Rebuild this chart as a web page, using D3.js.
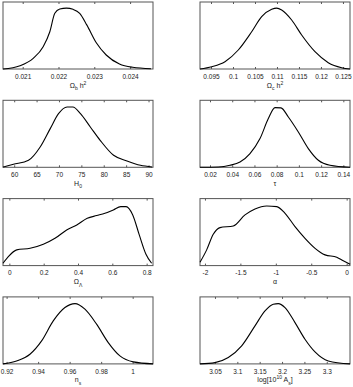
<!DOCTYPE html>
<html>
<head>
<meta charset="utf-8">
<script src="https://cdn.jsdelivr.net/npm/d3@7"></script>
<style>
  body { margin: 0; background: #fff; }
  svg { display: block; }
  .tick text { font-family: "Liberation Sans", Arial, sans-serif; font-size: 6.5px; fill: #222; }
  .xlabel { font-family: "Liberation Sans", Arial, sans-serif; font-size: 7px; fill: #222; }
</style>
</head>
<body>
<div id="chart"></div>
<script>
// marginal posteriors (x value, relative probability)
const obhX = [0.02045, 0.020925, 0.021294, 0.021572, 0.021758, 0.021897, 0.022036, 0.022222, 0.022406, 0.022592, 0.022794, 0.023056, 0.023333, 0.023703, 0.024072, 0.024583];
const obhY = [0.0, 0.054, 0.175, 0.366, 0.612, 0.914, 0.985, 1.0, 0.98, 0.914, 0.72, 0.43, 0.23, 0.082, 0.028, 0.005];

const ochX = [0.0925, 0.09516, 0.09818, 0.1012, 0.10425, 0.10652, 0.1088, 0.10993, 0.11107, 0.11334, 0.11561, 0.11864, 0.12166, 0.1247, 0.1266];
const ochY = [0.0, 0.038, 0.12, 0.312, 0.612, 0.859, 0.98, 1.0, 0.969, 0.804, 0.558, 0.284, 0.104, 0.022, 0.0];

const h0X = [57.5, 59.84, 63.2, 65.8, 68.05, 69.9, 71.8, 73.1, 74.8, 77.0, 79.2, 82.2, 85.2, 88.2, 90.8];
const h0Y = [0.005, 0.049, 0.115, 0.333, 0.635, 0.88, 0.99, 0.99, 0.88, 0.662, 0.443, 0.197, 0.104, 0.033, 0.005];

const tauX = [0.011, 0.0275, 0.038, 0.047, 0.056, 0.065, 0.0725, 0.0785, 0.0839, 0.0905, 0.0995, 0.1085, 0.1175, 0.128, 0.146];
const tauY = [0.0, 0.005, 0.033, 0.087, 0.225, 0.471, 0.8, 0.98, 0.975, 0.826, 0.58, 0.307, 0.115, 0.033, 0.0];

const olX = [-0.037, -0.006, 0.043, 0.121, 0.198, 0.266, 0.334, 0.393, 0.454, 0.509, 0.557, 0.606, 0.649, 0.68, 0.719, 0.757, 0.796, 0.829];
const olY = [0.038, 0.148, 0.258, 0.284, 0.35, 0.448, 0.586, 0.668, 0.777, 0.821, 0.859, 0.914, 0.969, 0.969, 0.832, 0.504, 0.186, 0.038];

const alphaX = [-2.07, -1.976, -1.883, -1.788, -1.6, -1.435, -1.294, -1.129, -0.987, -0.87, -0.729, -0.588, -0.446, -0.305, -0.14, -0.069, 0.048];
const alphaY = [0.054, 0.258, 0.514, 0.624, 0.651, 0.832, 0.93, 0.979, 0.969, 0.859, 0.64, 0.448, 0.284, 0.176, 0.137, 0.093, 0.021];

const nsX = [0.9177, 0.9263, 0.9348, 0.9422, 0.9496, 0.957, 0.9634, 0.9697, 0.9771, 0.9845, 0.9919, 1.0004, 1.0129];
const nsY = [0.0, 0.049, 0.159, 0.378, 0.706, 0.925, 0.99, 0.898, 0.652, 0.35, 0.131, 0.033, 0.0];

const asX = [3.0165, 3.05, 3.0798, 3.1097, 3.1395, 3.1619, 3.1804, 3.1916, 3.2066, 3.229, 3.2513, 3.2737, 3.3035, 3.352];
const asY = [0.0, 0.021, 0.104, 0.296, 0.624, 0.87, 0.98, 0.99, 0.925, 0.678, 0.405, 0.197, 0.049, 0.0];

// tick values and x ranges
const obhTicks = [0.021, 0.022, 0.023, 0.024];
const ochTicks = [0.095, 0.1, 0.105, 0.11, 0.115, 0.12, 0.125];
const h0Ticks = [60, 65, 70, 75, 80, 85, 90];
const tauTicks = [0.02, 0.04, 0.06, 0.08, 0.1, 0.12, 0.14];
const olTicks = [0, 0.2, 0.4, 0.6, 0.8];
const alphaTicks = [-2, -1.5, -1, -0.5, 0];
const nsTicks = [0.92, 0.94, 0.96, 0.98, 1];
const asTicks = [3.05, 3.1, 3.15, 3.2, 3.25, 3.3];

const panels = [
  { x: obhX, y: obhY, ticks: obhTicks, domain: [0.02045, 0.02464], label: [["Ω"], ["b", "sub"], [" h"], ["2", "sup"]] },
  { x: ochX, y: ochY, ticks: ochTicks, domain: [0.0925, 0.1266], label: [["Ω"], ["c", "sub"], [" h"], ["2", "sup"]] },
  { x: h0X, y: h0Y, ticks: h0Ticks, domain: [57.5, 91.0], label: [["H"], ["0", "sub"]] },
  { x: tauX, y: tauY, ticks: tauTicks, domain: [0.011, 0.146], label: [["τ"]] },
  { x: olX, y: olY, ticks: olTicks, domain: [-0.037, 0.837], label: [["Ω"], ["Λ", "sub"]] },
  { x: alphaX, y: alphaY, ticks: alphaTicks, domain: [-2.07, 0.047], label: [["α"]] },
  { x: nsX, y: nsY, ticks: nsTicks, domain: [0.9177, 1.0129], label: [["n"], ["s", "sub"]] },
  { x: asX, y: asY, ticks: asTicks, domain: [3.0165, 3.352], label: [["log[10"], ["10", "sup"], [" A"], ["s", "sub"], ["]"]] }
];

const W = 353, H = 387;
const colLeft = [3, 200];
const pw = 150, ph = 67;
const rowTop = i => 2 + i * 98.3;

const svg = d3.select("#chart")
  .append("svg")
  .attr("width", W)
  .attr("height", H);

panels.forEach((p, i) => {
  const g = svg.append("g")
    .attr("transform", `translate(${colLeft[i % 2]},${rowTop(Math.floor(i / 2))})`);

  const x = d3.scaleLinear().domain(p.domain).range([0, pw]);
  const y = d3.scaleLinear().domain([0, 1.1]).range([ph, 0]);

  g.append("rect")
    .attr("width", pw)
    .attr("height", ph)
    .attr("fill", "none")
    .attr("stroke", "#555")
    .attr("stroke-width", 1);

  const bottom = g.append("g")
    .attr("transform", `translate(0,${ph})`)
    .call(d3.axisBottom(x).tickValues(p.ticks).tickFormat(d => String(d))
      .tickSizeInner(-2).tickSizeOuter(0).tickPadding(5));
  bottom.select(".domain").remove();
  bottom.selectAll(".tick line").attr("stroke", "#555");

  const top = g.append("g")
    .call(d3.axisTop(x).tickValues(p.ticks).tickFormat("")
      .tickSizeInner(-2).tickSizeOuter(0));
  top.select(".domain").remove();
  top.selectAll(".tick line").attr("stroke", "#555");

  const line = d3.line()
    .x(d => x(d[0]))
    .y(d => y(d[1]))
    .curve(d3.curveMonotoneX);

  g.append("path")
    .datum(d3.zip(p.x, p.y))
    .attr("fill", "none")
    .attr("stroke", "#000")
    .attr("stroke-width", 1.1)
    .attr("d", line);

  // axis label with sub/superscripts; dy is relative so undo each shift
  const lab = g.append("text")
    .attr("class", "xlabel")
    .attr("x", pw / 2)
    .attr("y", ph + 18.5)
    .attr("text-anchor", "middle");
  let shift = 0;
  p.label.forEach(([t, kind]) => {
    const ts = lab.append("tspan").text(t);
    let target = 0;
    if (kind === "sub") target = 2.5;
    if (kind === "sup") target = -3;
    if (kind) ts.attr("font-size", "5px");
    if (target !== shift) ts.attr("dy", target - shift);
    shift = target;
  });
});
</script>
</body>
</html>
